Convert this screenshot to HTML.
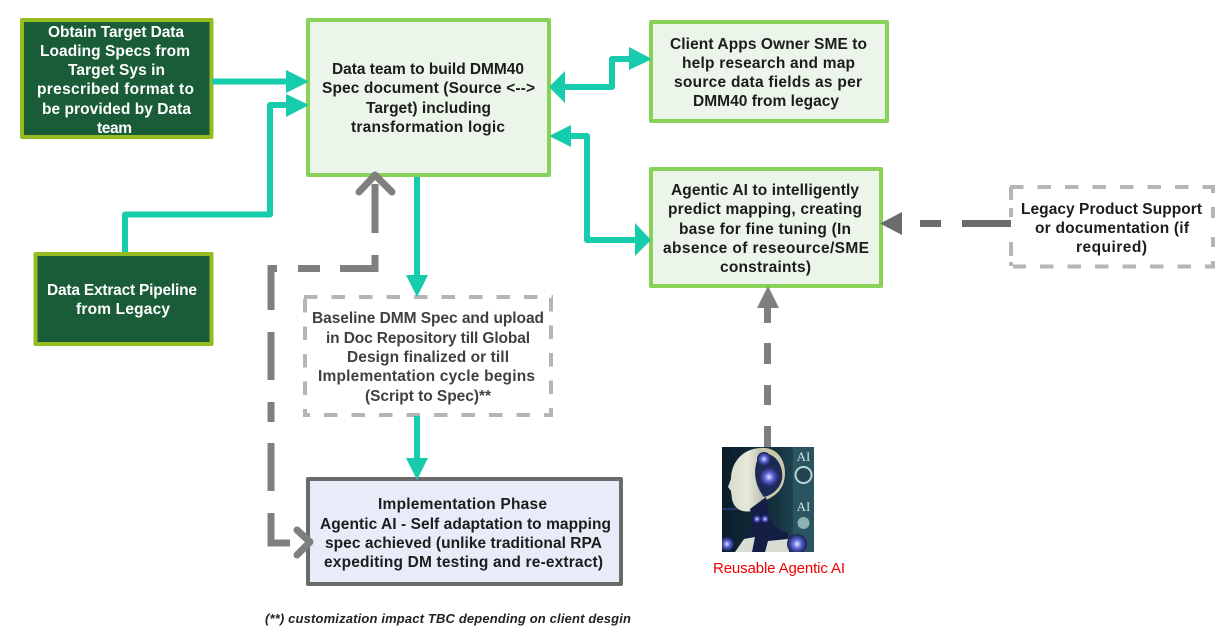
<!DOCTYPE html>
<html><head><meta charset="utf-8"><style>
html,body{margin:0;padding:0;background:#fff;width:1224px;height:635px;overflow:hidden}
svg{display:block}
text{font-family:"Liberation Sans",sans-serif;font-weight:bold;font-size:15.500px}
.w text{fill:#fff}.d text{fill:#1c1c1c}.g text{fill:#404040}
</style></head><body>
<svg width="1224" height="635" viewBox="0 0 1224 635" xmlns="http://www.w3.org/2000/svg" style="filter:blur(.3px)">
<defs>
<linearGradient id="bg" x1="0" y1="0" x2="1" y2="0"><stop offset="0" stop-color="#0c1c2a"/><stop offset=".6" stop-color="#14323e"/><stop offset="1" stop-color="#2c5a66"/></linearGradient>
<linearGradient id="face" x1="0" y1="0" x2="1" y2="0"><stop offset="0" stop-color="#d8dccc"/><stop offset=".5" stop-color="#e6e8da"/><stop offset="1" stop-color="#a8b0a0"/></linearGradient>
<radialGradient id="orb"><stop offset="0" stop-color="#e4e8ff"/><stop offset=".45" stop-color="#5a63d8"/><stop offset="1" stop-color="#1a2050"/></radialGradient>
</defs>
<!-- boxes -->
<g stroke-linejoin="round">
<rect x="22" y="20" width="189.500" height="117" fill="#1a5c38" stroke="#95bc20" stroke-width="4"/>
<rect x="35.500" y="254" width="176" height="90" fill="#1a5c38" stroke="#95bc20" stroke-width="4"/>
<rect x="308" y="20" width="241" height="155" fill="#ebf5ea" stroke="#88d258" stroke-width="4"/>
<rect x="651" y="22" width="236" height="99" fill="#ebf5ea" stroke="#88d258" stroke-width="4"/>
<rect x="651" y="169" width="230" height="117" fill="#ebf5ea" stroke="#88d258" stroke-width="4"/>
<rect x="308" y="479" width="313" height="105" fill="#e8ecf8" stroke="#6a6a6a" stroke-width="4"/>
</g>
<!-- dashed boxes -->
<g fill="none" stroke="#b5b5b5" stroke-width="4" stroke-dasharray="13.500 14">
<path d="M304 297H553"/>
<path d="M551 298V417"/>
<path d="M553 415H303" stroke-dashoffset="4.500"/>
<path d="M305 417V295" stroke-dashoffset="5.500"/>
<path d="M1010 187H1215"/>
<path d="M1215 266.500H1013" stroke-dashoffset="3.500"/>
</g>
<path d="M1213 187V193M1213 207V218M1213 237V247M1213 261V268M1011 187V200M1011 208V217M1011 242V256M1011 262V266" fill="none" stroke="#b5b5b5" stroke-width="4"/>
<!-- teal connectors -->
<g fill="none" stroke="#17cbad" stroke-width="6" stroke-linejoin="round">
<path d="M212 81.500H290"/>
<path d="M125 252V214.500H270V105H290"/>
<path d="M417 177V277"/>
<path d="M417 416V460"/>
<path d="M563 87H612V59H632"/>
<path d="M568 136H587V240H638"/>
</g>
<g fill="#17cbad">
<path d="M286 70L309 81.500L286 93Z"/>
<path d="M286 94L309 105L286 117Z"/>
<path d="M406 275H428L417 297Z"/>
<path d="M406 458H428L417 480Z"/>
<path d="M565 71V103L549 87Z"/>
<path d="M629 47V70L652 59Z"/>
<path d="M571 125V147L549 136Z"/>
<path d="M635 223V256L651 240Z"/>
</g>
<!-- grey connectors -->
<g fill="none" stroke="#7f7f7f" stroke-width="7">
<path d="M375 184V233"/>
<path d="M375 255V268.500H340"/>
<path d="M320 268.500H298"/>
<path d="M277 268.500H271V310"/>
<path d="M271 332V380M271 402V422M271 443V491"/>
<path d="M271 513V543H290"/>
<path d="M359 192L375 175L392 192" stroke-linecap="round" stroke-linejoin="round"/>
<path d="M297 530L310 542L297 555" stroke-linecap="round" stroke-linejoin="round"/>
<path d="M767.500 307V323M767.500 343V364M767.500 385V405M767.500 426V447"/>
</g>
<path d="M768 286L779 308H757Z" fill="#7f7f7f"/>
<path d="M902 212V235L880 223.500Z" fill="#6b6b6b"/>
<path d="M920 223.500H941M962 223.500H1011" fill="none" stroke="#6b6b6b" stroke-width="7"/>
<!-- AI picture -->
<svg x="722" y="447" width="92" height="105" viewBox="0 0 92 105">
<rect width="92" height="105" fill="url(#bg)"/>
<rect x="71" y="0" width="21" height="105" fill="#2a5560"/>
<path d="M38 1C58 -1 66 18 62 34C60 44 50 52 40 54L20 40Z" fill="#c9c8a8"/>
<path d="M38 1C20 2 9 16 9 32L6 40L9 44L10 52C12 62 20 66 30 64L36 60L42 50L46 20Z" fill="url(#face)"/>
<path d="M38 8C52 3 62 18 60 32C58 42 50 48 42 50C32 38 30 20 38 8Z" fill="#1b2a55"/>
<circle cx="42" cy="12" r="7" fill="url(#orb)"/>
<circle cx="47" cy="30" r="10" fill="url(#orb)" stroke="#232a60" stroke-width="2"/>
<path d="M28 62L44 50L48 72C52 80 58 84 66 86L66 105H14L22 92C30 88 32 78 28 62Z" fill="#141d44"/>
<circle cx="35" cy="72" r="4" fill="url(#orb)"/>
<circle cx="43" cy="72" r="4" fill="url(#orb)"/>
<path d="M13 105L22 92L33 90L30 105Z" fill="#d8dcd2"/>
<path d="M43 105L46 94L66 92L67 105Z" fill="#d8dcd2"/>
<circle cx="75" cy="97" r="10" fill="url(#orb)"/>
<circle cx="5" cy="97" r="7" fill="url(#orb)"/>
<path d="M0 62H16" stroke="#3a4ab0" stroke-width="1"/>
<text x="81.500" y="14" text-anchor="middle" style="font-size:13px;font-weight:normal;fill:#cfe0de;font-family:'Liberation Serif',serif">AI</text>
<circle cx="81.500" cy="28" r="8" fill="#24454f" stroke="#b8d6d8" stroke-width="2"/>
<text x="81.500" y="64" text-anchor="middle" style="font-size:13px;font-weight:normal;fill:#cfe0de;font-family:'Liberation Serif',serif">AI</text>
<circle cx="81.500" cy="76" r="6" fill="#8fb0b0"/>
</svg>
<!-- text -->
<g class="w">
<text x="48" y="37" textLength="136">Obtain Target Data</text>
<text x="40" y="56" textLength="150">Loading Specs from</text>
<text x="68" y="75" textLength="97">Target Sys in</text>
<text x="37" y="94" textLength="157">prescribed format to</text>
<text x="42" y="114" textLength="149">be provided by Data</text>
<text x="97" y="133" textLength="35">team</text>
<text x="47" y="295" textLength="150">Data Extract Pipeline</text>
<text x="76" y="314" textLength="94">from Legacy</text>
</g>
<g class="d">
<text x="332" y="74" textLength="192">Data team to build DMM40</text>
<text x="322" y="93" textLength="213">Spec document (Source &lt;--&gt;</text>
<text x="366" y="113" textLength="125">Target) including</text>
<text x="351" y="132" textLength="154">transformation logic</text>
<text x="670" y="49" textLength="197">Client Apps Owner SME to</text>
<text x="682" y="68" textLength="173">help research and map</text>
<text x="674" y="87" textLength="188">source data fields as per</text>
<text x="693" y="106" textLength="146">DMM40 from legacy</text>
<text x="671" y="195" textLength="188">Agentic AI to intelligently</text>
<text x="668" y="214" textLength="194">predict mapping, creating</text>
<text x="679" y="234" textLength="172">base for fine tuning (In</text>
<text x="663" y="253" textLength="206">absence of reseource/SME</text>
<text x="720" y="272" textLength="91">constraints)</text>
<text x="1021" y="214" textLength="181">Legacy Product Support</text>
<text x="1035" y="233" textLength="154">or documentation (if</text>
<text x="1076" y="252" textLength="71">required)</text>
<text x="378" y="509" textLength="169">Implementation Phase</text>
<text x="320" y="529" textLength="291">Agentic AI - Self adaptation to mapping</text>
<text x="325" y="548" textLength="277">spec achieved (unlike traditional RPA</text>
<text x="324" y="567" textLength="279">expediting DM testing and re-extract)</text>
</g>
<g class="g">
<text x="312" y="323" textLength="232">Baseline DMM Spec and upload</text>
<text x="326" y="343" textLength="204">in Doc Repository till Global</text>
<text x="347" y="362" textLength="162">Design finalized or till</text>
<text x="318" y="381" textLength="217">Implementation cycle begins</text>
<text x="365" y="401" textLength="126">(Script to Spec)**</text>
</g>
<text x="713" y="573" textLength="132" style="font-weight:normal;font-size:15px;fill:#f00000">Reusable Agentic AI</text>
<text x="265" y="623" textLength="366" style="font-style:italic;font-size:13px;fill:#222">(**) customization impact TBC depending on client desgin</text>
</svg>
</body></html>
